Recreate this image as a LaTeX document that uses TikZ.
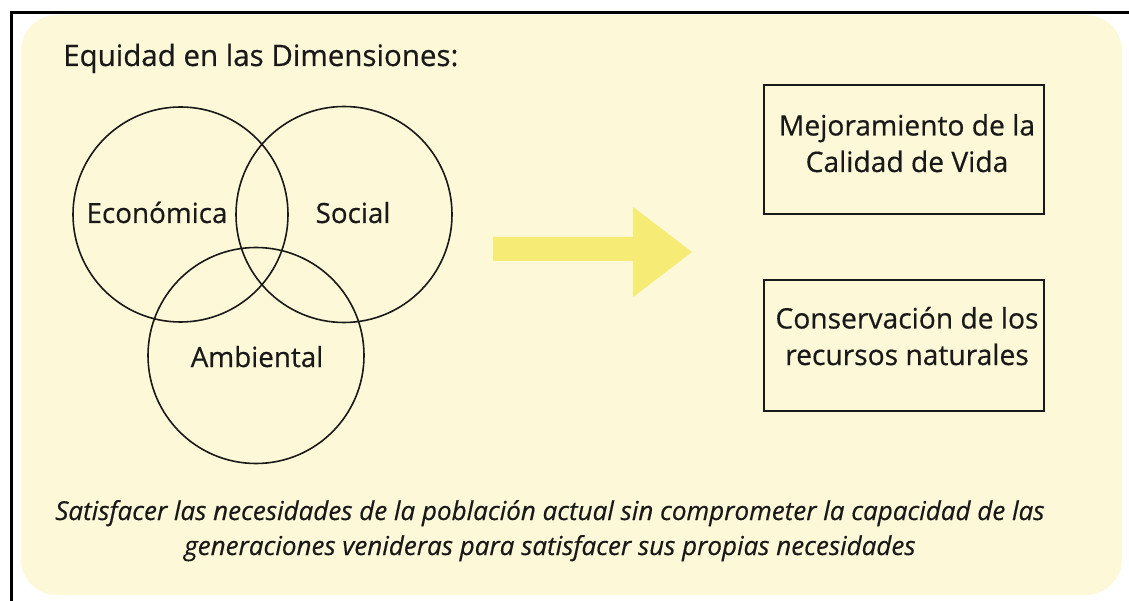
\documentclass[tikz,border=0pt]{standalone}
\usepackage{fontspec}
\setmainfont{Open Sans}[FakeBold=0.5]
\definecolor{panel}{RGB}{253,248,216}
\definecolor{arrowyel}{RGB}{246,235,117}
\definecolor{ink}{RGB}{25,25,25}
\begin{document}
\begin{tikzpicture}[x=1pt,y=-1pt,
  ring/.style={draw=ink,line width=1.6pt},
  lbl/.style={text=ink,font=\fontsize{27.8}{32}\selectfont,inner sep=0pt},
  outbox/.style={draw=ink,line width=1.6pt,minimum width=280pt,minimum height=129pt},
  boxtext/.style={align=center,text=ink,font=\fontsize{28.2}{36.5}\selectfont,inner sep=0pt},
  frame/.style={line width=2.5pt,black}]
\useasboundingbox (0,0) rectangle (1129,601);
\fill[white] (0,0) rectangle (1129,601);
% panel
\fill[panel,rounded corners=36pt] (21,15) rectangle (1122,595);
% frame lines
\draw[frame] (10,12.3) -- (1129,12.3);
\draw[frame] (11.3,11) -- (11.3,601);
% title
\node[lbl,font=\fontsize{29.5}{34}\selectfont,anchor=base west] (title) at (63,66) {Equidad en las Dimensiones:};
% circles
\node[ring,circle,minimum size=215pt,inner sep=0pt] (eco) at (180.5,214.5) {};
\node[ring,circle,minimum size=216pt,inner sep=0pt] (soc) at (344,214.5) {};
\node[ring,circle,minimum size=216pt,inner sep=0pt] (amb) at (256,355.5) {};
\node[lbl,anchor=base] (ecot) at (157,223) {Económica};
\node[lbl,anchor=base] (soct) at (353,223) {Social};
\node[lbl,anchor=base] (ambt) at (257,367) {Ambiental};
% arrow
\fill[arrowyel] (493,237) -- (633,237) -- (633,207) -- (692,252) -- (633,297) -- (633,261) -- (493,261) -- cycle;
% boxes
\node[outbox] (b1) at (904,149.5) {};
\node[outbox,minimum height=131pt] (b2) at (904,345.5) {};
\node[boxtext,anchor=base] (b1t) at (907,172) {Mejoramiento de la\\Calidad de Vida};
\node[boxtext,anchor=base] (b2t) at (907,365) {Conservación de los\\recursos naturales};
% bottom text
\node[text=ink,align=center,font=\fontsize{26}{35}\selectfont\itshape,anchor=base,inner sep=0pt] (quote) at (550,555)
  {Satisfacer las necesidades de la población actual sin comprometer la capacidad de las\\generaciones venideras para satisfacer sus propias necesidades};
\end{tikzpicture}
\end{document}
